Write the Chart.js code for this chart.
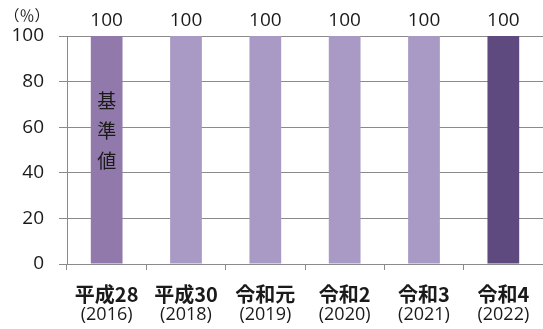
<!DOCTYPE html>
<html>
<head>
<meta charset="utf-8">
<script src="https://cdn.jsdelivr.net/npm/chart.js@4"></script>
<style>
  html, body { margin: 0; padding: 0; background: #fff; overflow: hidden; }
  #wrap { width: 543px; height: 329px; position: relative; }
</style>
</head>
<body>
<div id="wrap"><canvas id="myChart"></canvas></div>
<script>
// 年度ラベル（和暦と西暦）
const eraLabels = ["平成28", "平成30", "令和元", "令和2", "令和3", "令和4"];
const yearLabels = ["(2016)", "(2018)", "(2019)", "(2020)", "(2021)", "(2022)"];
const values = [100, 100, 100, 100, 100, 100];
const yTicks = [0, 20, 40, 60, 80, 100];
const barColors = ["#9279ac", "#a899c5", "#a899c5", "#a899c5", "#a899c5", "#5e4a7e"];

const FONT = "'Open Sans', 'Noto Sans CJK JP', sans-serif";
const JP_FONT = "'Noto Sans CJK JP', sans-serif";

// 棒の上の数値、基準値の縦書き、x軸の2段ラベル、単位
const labelPlugin = {
  id: "labels",
  afterDraw(chart) {
    const ctx = chart.ctx;
    const x = chart.scales.x;
    const meta = chart.getDatasetMeta(0);
    ctx.save();
    ctx.fillStyle = "#1a1a1a";
    ctx.textAlign = "center";
    ctx.textBaseline = "middle";

    ctx.font = "19px " + FONT;
    meta.data.forEach((bar, i) => {
      ctx.fillText(String(values[i]), bar.x, bar.y - 15);
    });

    // 基準値
    ctx.font = "19px " + JP_FONT;
    const cx = meta.data[0].x;
    ["基", "準", "値"].forEach((ch, k) => {
      ctx.fillText(ch, cx, 101 + k * 30);
    });

    eraLabels.forEach((lab, i) => {
      const px = x.getPixelForValue(i);
      ctx.font = "bold 20px " + JP_FONT;
      ctx.fillText(lab, px, 294);
      ctx.font = "18px " + FONT;
      ctx.fillText(yearLabels[i], px, 315);
    });

    ctx.font = "15px " + JP_FONT;
    ctx.fillText("（％）", 27, 15);
    ctx.restore();
  }
};

const ctx = document.getElementById("myChart");
new Chart(ctx, {
  type: "bar",
  data: {
    labels: eraLabels,
    datasets: [{
      data: values,
      backgroundColor: barColors,
      borderWidth: 0,
      categoryPercentage: 1,
      barPercentage: 0.4
    }]
  },
  options: {
    responsive: true,
    maintainAspectRatio: false,
    animation: false,
    layout: { padding: { top: 36, right: 0, left: 0, bottom: 0 } },
    plugins: {
      legend: { display: false },
      tooltip: { enabled: false }
    },
    scales: {
      x: {
        grid: {
          offset: true,
          drawOnChartArea: false,
          color: "#8a8a8a",
          tickLength: 6,
          tickColor: "#8a8a8a"
        },
        border: { color: "#8a8a8a", width: 1 },
        ticks: { display: false },
        afterFit(scale) { scale.height = 65; }
      },
      y: {
        min: 0,
        max: 100,
        afterBuildTicks(scale) {
          scale.ticks = yTicks.map(v => ({ value: v }));
        },
        grid: {
          color: "#8a8a8a",
          tickLength: 8,
          lineWidth: 1
        },
        border: { color: "#8a8a8a", width: 1 },
        ticks: {
          color: "#1a1a1a",
          padding: 15,
          font: { family: FONT, size: 19 }
        },
        afterFit(scale) { scale.width = 67; }
      }
    }
  },
  plugins: [labelPlugin]
});
</script>
</body>
</html>
